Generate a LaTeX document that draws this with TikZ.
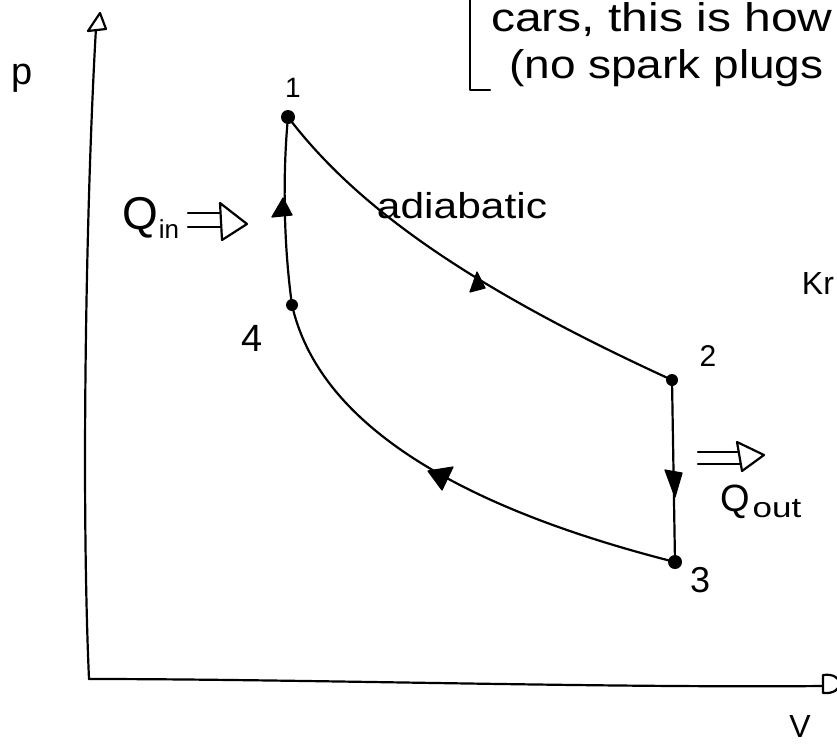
\documentclass[tikz,border=0pt]{standalone}
\usepackage{fontspec}
\setmainfont{Liberation Sans}
\begin{document}
\begin{tikzpicture}[x=1pt,y=-1pt, line width=2.2pt, line cap=round, line join=round,
  dot/.style={circle,fill=black,inner sep=0pt,minimum size=#1},
  dot/.default=12pt,
  lbl/.style={inner sep=0pt, anchor=center},
  tri/.style={fill=black, line width=1.2pt},
  openhead/.style={fill=white, line width=2.2pt},
  hand/.style={lbl, font=\fontsize{#1}{#1}\selectfont},
  hand/.default=34pt]
\useasboundingbox (0,0) rectangle (837,747);
\begin{scope}
\clip (0,0) rectangle (837,747);
% axes
\coordinate (O) at (89,679);
\coordinate (ytop) at (96,28);
\coordinate (xend) at (824,686);
\draw (O) .. controls (81,500) and (86,200) .. (ytop);
\draw[openhead] (88,31) -- (100,13) -- (106,29) -- cycle;
\draw (O) .. controls (300,679) and (600,688) .. (xend);
\draw[openhead] (823,675) .. controls (845,672) and (845,695) .. (823,693) -- cycle;
\node[hand=38pt] (plab) at (22,78) {p};
\node[hand=32pt] (vlab) at (800,726) {V};
% state points
\node[dot=14pt] (p1) at (288,117) {};
\node[dot=12pt] (p2) at (672,380) {};
\node[dot=14pt] (p3) at (675,562) {};
\node[dot=12pt] (p4) at (292,305) {};
% process curves
\draw (p1.center) .. controls (360,212) and (480,292) .. (p2.center);
\draw (p2.center) -- (p3.center);
\draw (p4.center) .. controls (318,420) and (450,505) .. (p3.center);
\draw (p4.center) .. controls (283,240) and (283,170) .. (p1.center);
% direction marks
\draw[tri] (283,198) -- (272,217) -- (292,215) -- cycle;
\draw[tri] (477,272) -- (470,292) -- (485,288) -- cycle;
\draw[tri] (665,470) -- (682,473) -- (675,497) -- cycle;
\draw[tri] (428,471) -- (453,467) -- (442,490) -- cycle;
% point labels
\node[hand=28pt] (l1) at (293,88) {1};
\node[hand=30pt] (l2) at (708,356) {2};
\node[hand=36pt] (l3) at (700,580) {3};
\node[hand=38pt] (l4) at (252,338) {4};
% heat arrows
\draw (188,213) -- (222,213);
\draw (188,227) -- (222,227);
\draw[openhead] (220,203) -- (247,224) -- (222,240) -- cycle;
\node[hand=46pt] (qin) at (140,218) {Q};
\node[hand=26pt] (qinsub) at (169,229) {in};
\draw (698,452) -- (740,452);
\draw (698,464) -- (740,464);
\draw[openhead] (737,442) -- (764,455) -- (742,471) -- cycle;
\node[hand=38pt] (qout) at (735,502) {Q};
\node[hand=28pt] (qoutsub) at (777,509) {\scalebox{1.25}[1]{out}};
% texts
\node[hand=36pt] (adia) at (462,206) {\scalebox{1.18}[1]{adiabatic}};
\node[hand=40pt, anchor=west] (t1) at (490,20) {\scalebox{1.2}[1]{cars, this is how}};
\node[hand=40pt, anchor=west] (t2) at (508,68) {\scalebox{1.15}[1]{(no spark plugs}};
\node[hand=32pt, anchor=east] (kr) at (835,283) {Kr};
\coordinate (bt) at (470,0);
\coordinate (bb) at (470,90);
\coordinate (be) at (490,90);
\draw (bt) -- (bb) -- (be);
\end{scope}
\end{tikzpicture}
\end{document}
